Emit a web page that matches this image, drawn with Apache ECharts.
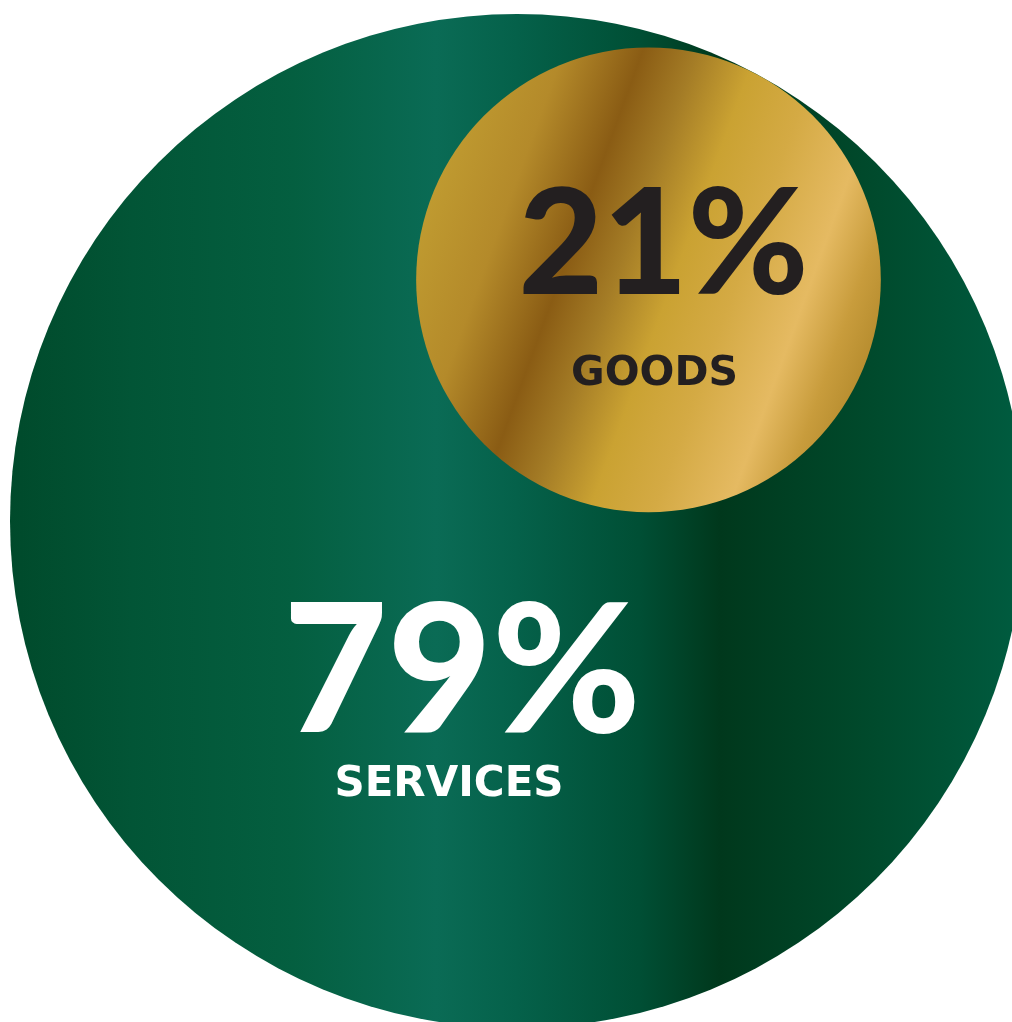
<!DOCTYPE html>
<html>
<head>
<meta charset="utf-8">
<script src="https://cdn.jsdelivr.net/npm/echarts@6/dist/echarts.min.js"></script>
<style>
  html, body { margin: 0; padding: 0; background: #ffffff; }
  #chart { width: 1012px; height: 1022px; }
</style>
</head>
<body>
<div id="chart"></div>
<script>
// Share of total, in percent
const categories = ['Services', 'Goods'];
const shareValues = [79, 21];
const shareLabels = ['SERVICES', 'GOODS'];
const TOTAL = shareValues[0] + shareValues[1];

// Bubble layout: the whole (100%) is one big disc, the goods share is a
// disc of proportional area sitting inside it, touching its rim.
const OUTER_DIAMETER = 1014;          // px of the 100% disc
const X_RANGE = [-517, 495];          // axis units == px
const Y_RANGE = [-501, 521];
const GOODS_ANGLE = 61.4 * Math.PI / 180;

const sizeOf = v => OUTER_DIAMETER * Math.sqrt(v / TOTAL);
const outerR = sizeOf(TOTAL) / 2;
const innerR = sizeOf(shareValues[1]) / 2;
const gap = outerR - innerR;
const goodsPoint = [gap * Math.cos(GOODS_ANGLE), gap * Math.sin(GOODS_ANGLE), shareValues[1]];
const totalPoint = [0, 0, TOTAL];

const NUM_FONT = 'Lato';
const WORD_FONT = '"DejaVu Sans"';

const greenFill = new echarts.graphic.LinearGradient(0, 0, 1, 0, [
  { offset: 0.00, color: '#004a2b' },
  { offset: 0.12, color: '#025536' },
  { offset: 0.28, color: '#045f40' },
  { offset: 0.42, color: '#0a6b55' },
  { offset: 0.50, color: '#05614a' },
  { offset: 0.62, color: '#004f35' },
  { offset: 0.70, color: '#00381c' },
  { offset: 0.85, color: '#004a2c' },
  { offset: 1.00, color: '#005c40' }
]);

const goldFill = new echarts.graphic.LinearGradient(0.03, 0.329, 0.97, 0.671, [
  { offset: 0.00, color: '#bf9a30' },
  { offset: 0.16, color: '#b48a2a' },
  { offset: 0.32, color: '#8a5c14' },
  { offset: 0.43, color: '#a47c26' },
  { offset: 0.55, color: '#caa232' },
  { offset: 0.68, color: '#d4aa44' },
  { offset: 0.83, color: '#e5ba62' },
  { offset: 0.93, color: '#c89c3c' },
  { offset: 1.00, color: '#b88e30' }
]);

const chart = echarts.init(document.getElementById('chart'), null, { renderer: 'canvas' });

chart.setOption({
  animation: false,
  backgroundColor: '#ffffff',
  grid: { left: 0, right: 0, top: 0, bottom: 0, containLabel: false },
  xAxis: { type: 'value', min: X_RANGE[0], max: X_RANGE[1], show: false },
  yAxis: { type: 'value', min: Y_RANGE[0], max: Y_RANGE[1], show: false },
  series: [
    {
      name: categories[0],
      type: 'scatter',
      clip: false,
      silent: true,
      z: 1,
      data: [totalPoint],
      symbol: 'circle',
      symbolSize: val => sizeOf(val[2]),
      itemStyle: { color: greenFill, opacity: 1 },
      label: {
        show: true,
        position: 'inside',
        offset: [-55, 189],
        formatter: () => `{v|${shareValues[0]}%}\n{n|${shareLabels[0]}}`,
        rich: {
          v: { fontFamily: NUM_FONT, fontWeight: 900, fontSize: 180, color: '#ffffff', lineHeight: 150 },
          n: { fontFamily: WORD_FONT, fontWeight: 'bold', fontSize: 42, color: '#ffffff', lineHeight: 72, padding: [0, 26, 0, 0] }
        }
      },
      emphasis: { disabled: true }
    },
    {
      name: categories[1],
      type: 'scatter',
      clip: false,
      silent: true,
      z: 2,
      data: [goodsPoint],
      symbol: 'circle',
      symbolSize: val => sizeOf(val[2]),
      itemStyle: { color: goldFill, opacity: 1 },
      label: {
        show: true,
        position: 'inside',
        offset: [15, 9],
        formatter: () => `{v|${shareValues[1]}%}\n{n|${shareLabels[1]}}`,
        rich: {
          v: { fontFamily: NUM_FONT, fontWeight: 900, fontSize: 146, color: '#231f20', lineHeight: 170 },
          n: { fontFamily: WORD_FONT, fontWeight: 'bold', fontSize: 41, color: '#231f20', lineHeight: 84, padding: [0, 18, 0, 0] }
        }
      },
      emphasis: { disabled: true }
    }
  ]
});
</script>
</body>
</html>
